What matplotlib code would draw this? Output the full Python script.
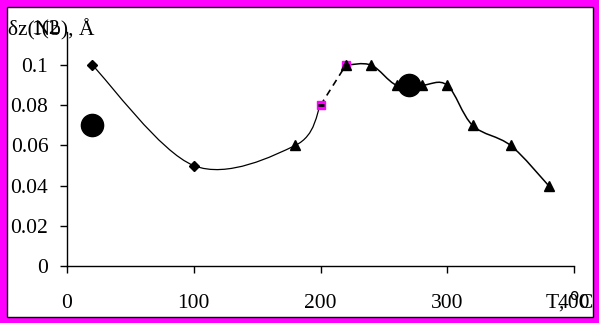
import matplotlib
matplotlib.use("Agg")
import matplotlib.pyplot as plt
from matplotlib.path import Path
from matplotlib.patches import PathPatch, Rectangle
import numpy as np

# ---- data ----
s1_x = [20, 100, 180, 200]
s1_y = [0.10, 0.05, 0.06, 0.08]
diam_x = [20, 100]
diam_y = [0.10, 0.05]
tri_x = [180, 220, 240, 260, 280, 300, 320, 350, 380]
tri_y = [0.06, 0.10, 0.10, 0.09, 0.09, 0.09, 0.07, 0.06, 0.04]
s2_x = [220, 240, 260, 280, 300, 320, 350, 380]
s2_y = [0.10, 0.10, 0.09, 0.09, 0.09, 0.07, 0.06, 0.04]
sq_x = [200, 220]
sq_y = [0.08, 0.10]
big_x = [20, 270]
big_y = [0.07, 0.09]
xticks = [0, 100, 200, 300, 400]
yticks = [0, 0.02, 0.04, 0.06, 0.08, 0.1]
ytick_labels = ["0", "0.02", "0.04", "0.06", "0.08", "0.1"]

plt.rcParams['font.family'] = ['Liberation Serif', 'DejaVu Serif']

W, H = 599, 323
fig = plt.figure(figsize=(W / 100, H / 100), dpi=100)
fig.patch.set_facecolor('#FF00FF')
# white inner panel with black edge
fig.patches.append(Rectangle((6.5 / W, 6.5 / H), (W - 13) / W, (H - 13) / H,
                             transform=fig.transFigure, facecolor='white',
                             edgecolor='black', linewidth=1.0, zorder=-5))

ax = fig.add_axes([67 / W, (H - 266) / H, (574 - 67) / W, (266 - 32) / H])
ax.set_zorder(1)
ax.set_facecolor('none')
ax.set_xlim(0, 400)
ax.set_ylim(0, 0.1165)
for s in ['top', 'right']:
    ax.spines[s].set_visible(False)
for s in ['left', 'bottom']:
    ax.spines[s].set_linewidth(1.0)
ax.set_xticks(xticks)
ax.set_yticks(yticks)
ax.set_yticklabels(ytick_labels)
ax.tick_params(axis='both', direction='out', length=5, width=1.0, labelsize=15.5)
ax.tick_params(axis='y', pad=8.5)
ax.tick_params(axis='x', pad=15.5)


def smooth_path(xs, ys):
    pts = np.column_stack([xs, ys]).astype(float)
    n = len(pts)
    verts = [pts[0]]
    codes = [Path.MOVETO]
    for i in range(n - 1):
        p0 = pts[i - 1] if i > 0 else pts[i]
        p1 = pts[i]
        p2 = pts[i + 1]
        p3 = pts[i + 2] if i + 2 < n else pts[i + 1]
        c1 = p1 + (p2 - p0) / 6.0
        c2 = p2 - (p3 - p1) / 6.0
        verts += [c1, c2, p2]
        codes += [Path.CURVE4] * 3
    return Path(verts, codes)


ax.add_patch(PathPatch(smooth_path(s1_x, s1_y), facecolor='none',
                       edgecolor='black', linewidth=0.9, zorder=2))
ax.add_patch(PathPatch(smooth_path(s2_x, s2_y), facecolor='none',
                       edgecolor='black', linewidth=1.1, zorder=2))
ax.plot(sq_x, sq_y, linestyle=(0, (4, 3)), color='black', linewidth=1.2,
        marker='s', markersize=6, markerfacecolor='#FF00FF',
        markeredgecolor='#FF00FF', zorder=3)
ax.plot(sq_x, sq_y, linestyle='none', marker='_', markersize=4,
        color='black', markeredgewidth=2, zorder=4)
ax.plot(diam_x, diam_y, linestyle='none', marker='D', markersize=5,
        color='black', zorder=4)
ax.plot(tri_x, tri_y, linestyle='none', marker='^', markersize=7.5,
        color='black', zorder=4)
ax.plot(big_x, big_y, linestyle='none', marker='o', markersize=16,
        color='black', zorder=5)

# axis titles (overlapping, as in the reference)
fig.text(8 / W, 1 - 30 / H, "δz(Nb), Å", fontsize=15.5, va='center', ha='left')
fig.text(31 / W, 1 - 30 / H, "1(2", fontsize=15.5, va='center', ha='left')
fig.text(545 / W, 1 - 302 / H, "T, $^{\\mathrm{o}}$C", fontsize=15.5,
         va='center', ha='left')

fig.savefig("out.png", dpi=100, facecolor=fig.get_facecolor())
